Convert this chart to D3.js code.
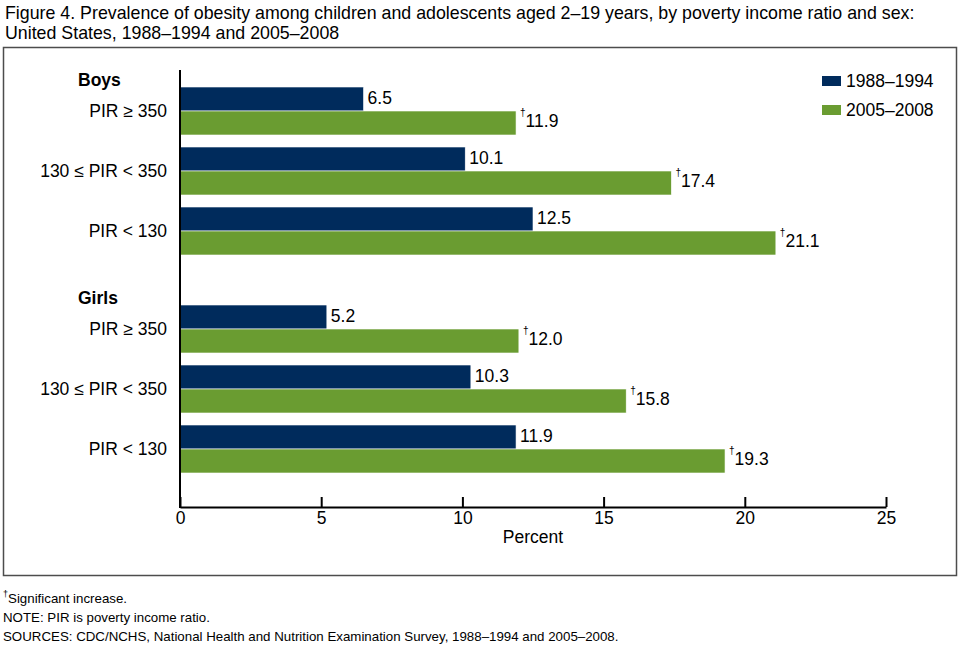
<!DOCTYPE html>
<html>
<head>
<meta charset="utf-8">
<script src="https://cdn.jsdelivr.net/npm/d3@7"></script>
<style>
  body { margin: 0; background: #fff; }
  svg { font-family: "Liberation Sans", Arial, sans-serif; }
</style>
</head>
<body>
<svg id="chart" width="960" height="646"></svg>
<script>
// data
const sexes = ["Boys", "Girls"];
const pirGroups = ["PIR \u2265 350", "130 \u2264 PIR < 350", "PIR < 130"];
const periods = ["1988\u20131994", "2005\u20132008"];
const boys1988 = [6.5, 10.1, 12.5];
const boys2005 = [11.9, 17.4, 21.1];
const girls1988 = [5.2, 10.3, 11.9];
const girls2005 = [12.0, 15.8, 19.3];
const xTicks = [0, 5, 10, 15, 20, 25];
const colors = ["#002b5c", "#6a9c31"];

const svg = d3.select("#chart");
const fs = 17.5;

// flatten into rows the chart can bind to
const values = { Boys: [boys1988, boys2005], Girls: [girls1988, girls2005] };
const rows = [];
sexes.forEach(sex => {
    pirGroups.forEach((pir, i) => {
        periods.forEach((period, j) => {
            rows.push({ sex, pir, period, value: values[sex][j][i], sig: j === 1 });
        });
    });
});

// title
const title = svg.append("text").attr("x", 5).attr("font-size", 17.8).attr("fill", "#000");
title.append("tspan").attr("x", 5).attr("y", 19)
    .text("Figure 4. Prevalence of obesity among children and adolescents aged 2\u201319 years, by poverty income ratio and sex:");
title.append("tspan").attr("x", 5).attr("y", 39)
    .text("United States, 1988\u20131994 and 2005\u20132008");

// frame
svg.append("rect")
    .attr("x", 3.5).attr("y", 47.5)
    .attr("width", 953).attr("height", 528)
    .attr("fill", "none").attr("stroke", "#4d4d4d").attr("stroke-width", 1.5);

const x = d3.scaleLinear().domain([0, 25]).range([180, 886]);

const ySex = d3.scaleBand().domain(sexes).range([81, 479]).paddingInner(38 / 218).paddingOuter(0);
const yPir = d3.scaleBand().domain(pirGroups).range([0, ySex.bandwidth()]);
const yPeriod = d3.scaleBand().domain(periods).range([0, yPir.bandwidth()]).paddingOuter(0.25);

const yOf = d => ySex(d.sex) + yPir(d.pir) + yPeriod(d.period);

// bars
svg.append("g").selectAll("rect")
    .data(rows)
    .join("rect")
    .attr("x", x(0))
    .attr("y", yOf)
    .attr("width", d => x(d.value) - x(0))
    .attr("height", yPeriod.bandwidth())
    .attr("fill", d => colors[periods.indexOf(d.period)])
    .attr("stroke", "#fff")
    .attr("stroke-width", 0.6);

// value labels
const fmt = d3.format(".1f");
const labels = svg.append("g").selectAll("text")
    .data(rows)
    .join("text")
    .attr("x", d => x(d.value) + 4)
    .attr("y", d => yOf(d) + yPeriod.bandwidth() / 2 - 1)
    .attr("dy", "0.36em")
    .attr("font-size", fs)
    .attr("fill", "#000");
labels.filter(d => d.sig).append("tspan")
    .attr("font-size", 10)
    .attr("dy", "-0.6em")
    .text("\u2020");
labels.append("tspan")
    .attr("dy", d => d.sig ? "0.6em" : null)
    .text(d => fmt(d.value));

// category labels
const yLab = svg.append("g");
sexes.forEach(sex => {
    yLab.append("text")
        .attr("x", 78).attr("y", ySex(sex) + 5)
        .attr("font-size", fs).attr("font-weight", "bold")
        .text(sex);
    yLab.selectAll(null)
        .data(pirGroups)
        .join("text")
        .attr("x", 167)
        .attr("y", d => ySex(sex) + yPir(d) + yPir.bandwidth() / 2)
        .attr("dy", "0.36em")
        .attr("text-anchor", "end")
        .attr("font-size", fs)
        .text(d => d);
});

// axes
const xAxis = svg.append("g")
    .attr("transform", "translate(0,507)")
    .call(d3.axisBottom(x).tickValues(xTicks).tickSize(-10).tickPadding(5).tickSizeOuter(0));
xAxis.select(".domain").attr("stroke", "#000").attr("stroke-width", 2);
xAxis.selectAll(".tick line").attr("stroke", "#000").attr("stroke-width", 2);
xAxis.selectAll(".tick text")
    .attr("font-size", fs)
    .attr("font-family", "'Liberation Sans', Arial, sans-serif")
    .attr("fill", "#000");

svg.append("line")
    .attr("x1", x(0)).attr("x2", x(0))
    .attr("y1", 70).attr("y2", 508)
    .attr("stroke", "#000").attr("stroke-width", 2);

svg.append("text")
    .attr("x", (x(0) + x(25)) / 2).attr("y", 543)
    .attr("text-anchor", "middle").attr("font-size", fs)
    .text("Percent");

// legend
const legend = svg.append("g").attr("transform", "translate(822,76)");
periods.forEach((p, i) => {
    const row = legend.append("g").attr("transform", `translate(0,${i * 29})`);
    row.append("rect").attr("width", 19).attr("height", 10).attr("fill", colors[i]);
    row.append("text").attr("x", 24).attr("y", 5).attr("dy", "0.36em")
        .attr("font-size", fs).text(p);
});

// footnotes
const notes = svg.append("g").attr("font-size", 13.3).attr("fill", "#000");
const n1 = notes.append("text").attr("x", 3).attr("y", 601);
n1.append("tspan").attr("font-size", 9).attr("dy", "-0.5em").text("\u2020");
n1.append("tspan").attr("dy", "0.5em").text("Significant increase.");
notes.append("text").attr("x", 3).attr("y", 622).text("NOTE: PIR is poverty income ratio.");
notes.append("text").attr("x", 3).attr("y", 641)
    .text("SOURCES: CDC/NCHS, National Health and Nutrition Examination Survey, 1988\u20131994 and 2005\u20132008.");
</script>
</body>
</html>
